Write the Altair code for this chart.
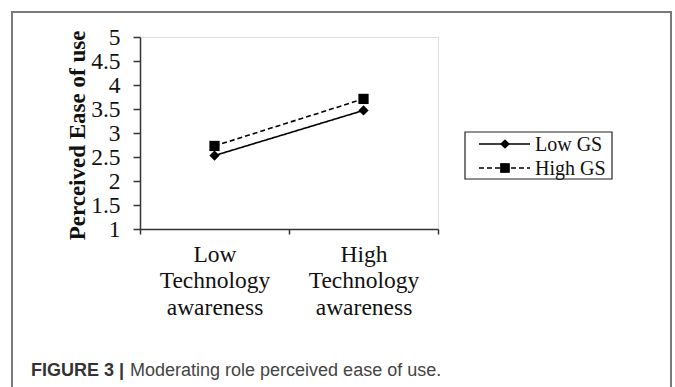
import altair as alt
import pandas as pd

# ---- data ----
categories = ["Low Technology awareness", "High Technology awareness"]
series = ["Low GS", "High GS"]
low_gs = [2.53, 3.47]
high_gs = [2.73, 3.71]
y_ticks = [1, 1.5, 2, 2.5, 3, 3.5, 4, 4.5, 5]

rows = []
for cat, v in zip(categories, low_gs):
    rows.append({"cat": cat, "series": series[0], "value": v})
for cat, v in zip(categories, high_gs):
    rows.append({"cat": cat, "series": series[1], "value": v})
df = pd.DataFrame(rows)

W, H = 298, 192
SERIF = "Liberation Serif"
SANS = "Liberation Sans"

x_enc = alt.X(
    "cat:N",
    sort=categories,
    scale=alt.Scale(paddingInner=0, paddingOuter=0),
    axis=alt.Axis(
        title=None,
        labelAngle=0,
        labelExpr="split(datum.label, ' ')",
        labelFont=SERIF,
        labelFontSize=23.5,
        labelColor="#111",
        labelLineHeight=26.5,
        labelBaseline="top",
        labelPadding=8,
        labelLimit=300,
        tickBand="extent",
        tickSize=5,
        tickColor="#333",
        tickWidth=1.5,
        domainColor="#333",
        domainWidth=1.5,
        grid=False,
    ),
)
y_enc = alt.Y(
    "value:Q",
    scale=alt.Scale(domain=[1, 5], nice=False, zero=False),
    axis=alt.Axis(
        title="Perceived Ease of use",
        values=y_ticks,
        format="~g",
        labelFont=SERIF,
        labelFontSize=23.5,
        labelColor="#111",
        labelPadding=13,
        tickSize=7,
        tickColor="#333",
        tickWidth=1.5,
        domainColor="#333",
        domainWidth=1.5,
        grid=False,
        titleFont=SERIF,
        titleFontSize=23,
        titleFontWeight="bold",
        titleColor="#111",
        titleAngle=-90,
        titleX=-56,
        titleY=98,
        titleAlign="center",
        titleBaseline="alphabetic",
    ),
)

dash_scale = alt.Scale(domain=series, range=[[1, 0], [5, 3]])
shape_scale = alt.Scale(domain=series, range=["diamond", "square"])

base = alt.Chart(df)
lines = base.mark_line(color="black", strokeWidth=1.6).encode(
    x=x_enc, y=y_enc,
    detail="series:N",
    strokeDash=alt.StrokeDash("series:N", scale=dash_scale, legend=None),
)
points = base.mark_point(filled=True, color="black", opacity=1, size=105).encode(
    x=x_enc, y=y_enc,
    shape=alt.Shape("series:N", scale=shape_scale, legend=None),
)

one = pd.DataFrame({"k": [0]})

# outer figure frame
frame = alt.Chart(one).mark_rect(fillOpacity=0, stroke="#7a7a7a", strokeWidth=2).encode(
    x=alt.value(-128), x2=alt.value(531), y=alt.value(-25), y2=alt.value(420)
)

# manual legend
legend_box = alt.Chart(one).mark_rect(fillOpacity=0, stroke="#222", strokeWidth=1.2).encode(
    x=alt.value(325), x2=alt.value(472), y=alt.value(95), y2=alt.value(142)
)
legend_layers = [legend_box]
shapes = ["diamond", "square"]
dashes = [[1, 0], [5, 3]]
for i, name in enumerate(series):
    yy = 107 + i * 24
    legend_layers.append(
        alt.Chart(one).mark_rule(color="black", strokeWidth=1.6, strokeDash=dashes[i]).encode(
            x=alt.value(339), x2=alt.value(390), y=alt.value(yy)
        )
    )
    legend_layers.append(
        alt.Chart(one).mark_point(filled=True, color="black", opacity=1, size=95, shape=shapes[i]).encode(
            x=alt.value(365), y=alt.value(yy)
        )
    )
    legend_layers.append(
        alt.Chart(pd.DataFrame({"t": [name]})).mark_text(
            font=SERIF, fontSize=20, align="left", baseline="middle", color="#111"
        ).encode(x=alt.value(395), y=alt.value(yy + 1), text="t:N")
    )

# caption
cap_bold = alt.Chart(pd.DataFrame({"t": ["FIGURE 3 |"]})).mark_text(
    font=SANS, fontSize=18, fontWeight="bold", align="left", baseline="alphabetic", color="#333"
).encode(x=alt.value(-109), y=alt.value(339), text="t:N")
cap_text = alt.Chart(pd.DataFrame({"t": ["Moderating role perceived ease of use."]})).mark_text(
    font=SANS, fontSize=18, align="left", baseline="alphabetic", color="#444"
).encode(x=alt.value(-10), y=alt.value(339), text="t:N")

chart = alt.layer(
    frame, lines, points, *legend_layers, cap_bold, cap_text
).properties(
    width=W,
    height=H,
    autosize=alt.AutoSizeParams(type="none"),
    padding={"left": 140, "top": 37, "right": 237, "bottom": 158},
).configure_view(
    stroke="#8a8a8a", strokeWidth=2
).configure(background="white")

chart.save("out.html", embed_options={"renderer": "svg", "actions": False})
